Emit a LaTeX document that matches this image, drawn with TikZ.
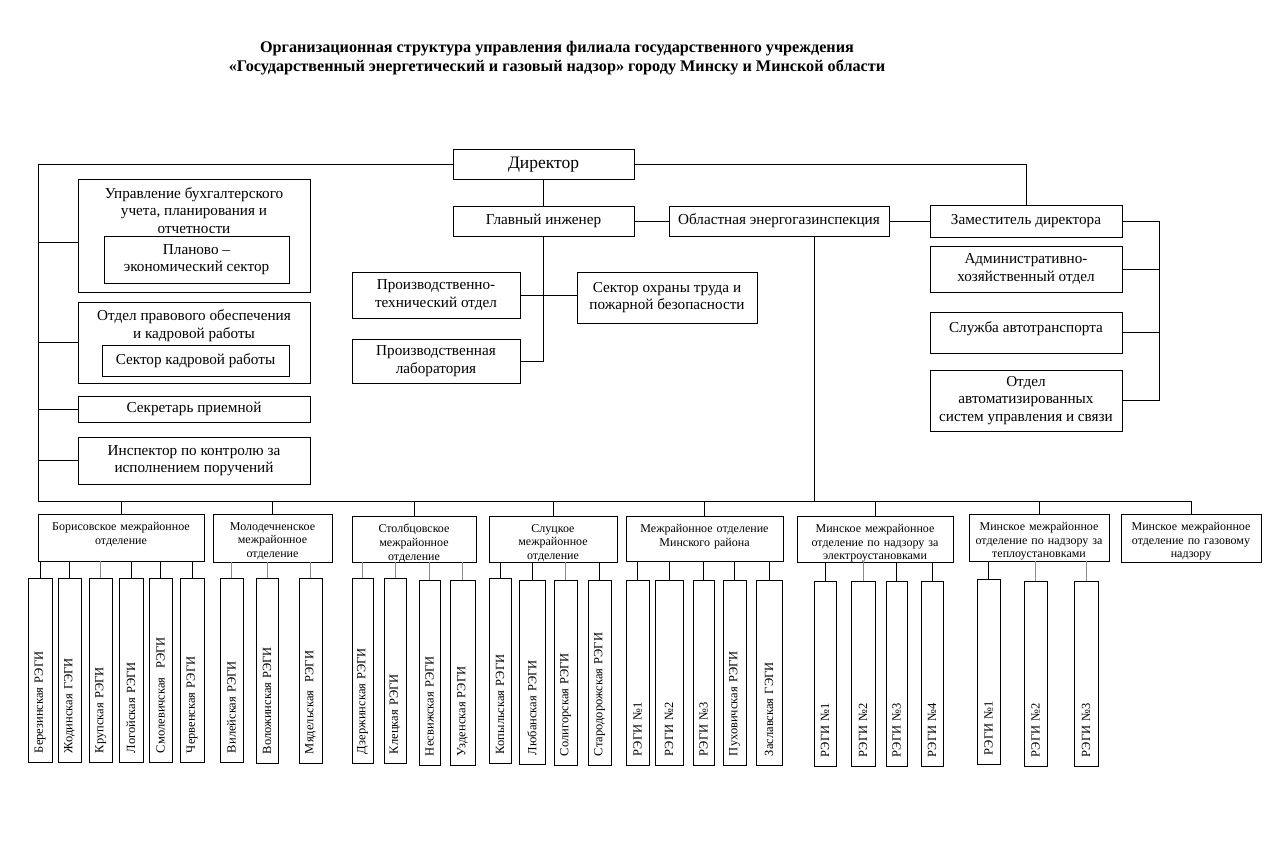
\documentclass[tikz,border=0pt]{standalone}
\usepackage{fontspec}
\setmainfont{Liberation Serif}
\begin{document}
\begin{tikzpicture}[x=1pt,y=-1pt,
  box/.style={draw,line width=0.8pt,inner sep=2pt,align=center,font=\fontsize{15.2}{17.5}\selectfont},
  dbox/.style={draw,line width=0.8pt,inner sep=2pt,align=center},
  vbox/.style={draw,line width=0.8pt,inner sep=0pt,align=left,rotate=90,font=\fontsize{12.5}{14}\selectfont},
  txt/.style={inner sep=0pt,align=center,font=\fontsize{15.2}{17.5}\selectfont},
  dtxt/.style={inner sep=0pt,align=center,font=\fontsize{12}{13.6}\selectfont},
  ln/.style={line width=0.8pt},
  gln/.style={line width=0.8pt,draw=black!45}]
\newcommand\bx[7][]{\node[box,minimum width={(#5-#3)*1pt},minimum height={(#6-#4)*1pt},#1] (#2) at ({(#3+#5)/2},{(#4+#6)/2}) {#7};}
\newcommand\db[6]{\node[dbox,minimum width={(#4-#2)*1pt},minimum height={(#5-#3)*1pt}] (#1) at ({(#2+#4)/2},{(#3+#5)/2}) {};
  \node[dtxt,anchor=north,text width={(#4-#2-6)*1pt}] (#1t) at ([yshift=-8.5pt]#1.north) {#6};}
\newcommand\vb[6]{\node[vbox,minimum width={(#5-#4)*1pt},minimum height={(#3-#2)*1pt},text width={(#5-#4-18)*1pt}] (#1) at ({(#2+#3)/2},{(#4+#5)/2}) {#6};}
\useasboundingbox (0,0) rectangle (1286,842);
\fill[white] (0,0) rectangle (1286,842);
% title
\node[inner sep=0pt,align=center,font=\bfseries\fontsize{16.2}{19}\selectfont] (title) at (557,58)
  {Организационная структура управления филиала государственного учреждения\\«Государственный энергетический и газовый надзор» городу Минску и Минской области};
% top level
\bx[font=\fontsize{17.5}{20}\selectfont,text depth=2pt]{dir}{453}{149}{634}{179}{Директор}
\bx{gi}{453}{206}{634}{236}{Главный инженер}
\bx{obl}{669}{206}{889}{236}{Областная энергогазинспекция}
\bx{zam}{930}{205}{1122}{237}{Заместитель директора}
\bx{aho}{930}{246}{1122}{292}{Административно-\\хозяйственный отдел}
\bx{sl}{930}{312}{1122}{353}{}
\node[txt,anchor=north] (slt) at ([yshift=-9.5pt]sl.north) {Служба автотранспорта};
\bx{avt}{930}{370}{1122}{431}{Отдел\\автоматизированных\\систем управления и связи}
\bx{pto}{352}{272}{520}{318}{Производственно-\\технический отдел}
\bx{lab}{352}{339}{520}{383}{Производственная\\лаборатория}
\bx{soh}{577}{272}{757}{323}{Сектор охраны труда и\\пожарной безопасности}
% left column
\bx{buh}{78}{179}{310}{292}{}
\node[txt,anchor=north] (buht) at ([yshift=-8.5pt]buh.north) {Управление бухгалтерского\\учета, планирования и\\отчетности};
\bx{pe}{104}{236}{289}{283}{Планово –\\экономический сектор}
\bx{prav}{78}{302}{310}{383}{}
\node[txt,anchor=north] (pravt) at ([yshift=-8pt]prav.north) {Отдел правового обеспечения\\и кадровой работы};
\bx{sk}{102}{345}{289}{376}{Сектор кадровой работы}
\bx{sec}{78}{396}{310}{422}{Секретарь приемной}
\bx{insp}{78}{437}{310}{484}{Инспектор по контролю за\\исполнением поручений}
% departments
\db{bor}{38}{514}{204}{561}{Борисовское межрайонное\\отделение}
\db{mol}{213}{514}{332}{562}{Молодечненское\\межрайонное\\отделение}
\db{stl}{352}{516}{476}{562}{Столбцовское\\межрайонное\\отделение}
\db{slu}{489}{516}{617}{562}{Слуцкое\\межрайонное\\отделение}
\db{mr}{626}{516}{783}{561}{Межрайонное отделение\\Минского района}
\db{el}{797}{516}{953}{562}{Минское межрайонное\\отделение по надзору за\\электроустановками}
\db{tep}{969}{514}{1109}{561}{Минское межрайонное\\отделение по надзору за\\теплоустановками}
\db{gaz}{1121}{514}{1261}{562}{Минское межрайонное\\отделение по газовому\\надзору}
% vertical boxes
\vb{b1}{28}{52}{578}{762}{Березинская РЭГИ}
\vb{b2}{58}{81}{578}{762}{Жодинская ГЭГИ}
\vb{b3}{89}{112}{578}{762}{Крупская РЭГИ}
\vb{b4}{119}{143}{578}{762}{Логойская РЭГИ}
\vb{b5}{149}{172}{578}{762}{Смолевичская\ \ РЭГИ}
\vb{b6}{180}{204}{578}{762}{Червенская РЭГИ}
\vb{m1}{220}{243}{578}{762}{Вилейская РЭГИ}
\vb{m2}{256}{278}{578}{763}{Воложинская РЭГИ}
\vb{m3}{299}{322}{578}{763}{Мядельская\ \ РЭГИ}
\vb{s1}{352}{373}{578}{763}{Дзержинская РЭГИ}
\vb{s2}{384}{406}{578}{763}{Клецкая РЭГИ}
\vb{s3}{419}{440}{580}{765}{Несвижская РЭГИ}
\vb{s4}{450}{475}{580}{765}{Узденская РЭГИ}
\vb{c1}{489}{511}{578}{763}{Копыльская РЭГИ}
\vb{c2}{519}{545}{580}{764}{Любанская РЭГИ}
\vb{c3}{554}{577}{580}{765}{Солигорская РЭГИ}
\vb{c4}{588}{611}{580}{765}{Стародорожская РЭГИ}
\vb{r1}{626}{649}{580}{765}{РЭГИ №1}
\vb{r2}{655}{683}{580}{765}{РЭГИ №2}
\vb{r3}{693}{714}{580}{765}{РЭГИ №3}
\vb{r4}{723}{746}{580}{765}{Пуховичская РЭГИ}
\vb{r5}{756}{782}{580}{765}{Заславская ГЭГИ}
\vb{e1}{814}{836}{581}{766}{РЭГИ №1}
\vb{e2}{851}{875}{581}{766}{РЭГИ №2}
\vb{e3}{886}{907}{581}{766}{РЭГИ №3}
\vb{e4}{921}{943}{581}{766}{РЭГИ №4}
\vb{t1}{977}{1000}{579}{764}{РЭГИ №1}
\vb{t2}{1024}{1047}{581}{766}{РЭГИ №2}
\vb{t3}{1074}{1098}{581}{766}{РЭГИ №3}
% coordinates
\coordinate (busL) at (38,501);
\coordinate (oblB) at (814,501);
\coordinate (rb) at (1159,219);
% connectors
\draw[ln] (dir.west) -| (busL) -| (gaz.north);
\draw[ln] (dir.east) -| (zam.north);
\draw[ln] (dir.south) -- (gi.north);
\draw[ln] (gi.east) -- (obl.west);
\draw[ln] (obl.east) -- (zam.west);
\draw[ln] (obl.south -| oblB) -- (oblB);
\draw[ln] (gi.south) |- (lab.east);
\draw[ln] (pto.east) -- (pto.east -| soh.west);
\draw[ln] (zam.east) -| (rb |- avt.east) -- (avt.east);
\draw[ln] (aho.east) -- (aho.east -| rb);
\draw[ln] (sl.east) -- (sl.east -| rb);
\draw[ln] (busL |- buh.west) ++(0,6.5) -- ([yshift=-6.5pt]buh.west);
\foreach \n in {prav,sec,insp} \draw[ln] (busL |- \n.west) -- (\n.west);
\foreach \n in {bor,mol,stl,slu,mr,el,tep} \draw[ln] (\n.north) -- (\n.north |- busL);
\foreach \n/\p in {b1/bor,b2/bor,b4/bor,b5/bor,b6/bor,c1/slu,c2/slu,c4/slu,r1/mr,r2/mr,r3/mr,r4/mr,r5/mr,e1/el,e3/el,e4/el,t1/tep}
  \draw[ln] (\n.east) -- (\n.east |- \p.south);
\foreach \n/\p in {b3/bor,m1/mol,m2/mol,m3/mol,s1/stl,s2/stl,s3/stl,s4/stl,c3/slu,e2/el,t2/tep,t3/tep}
  \draw[gln] (\n.east) -- (\n.east |- \p.south);
\end{tikzpicture}
\end{document}
